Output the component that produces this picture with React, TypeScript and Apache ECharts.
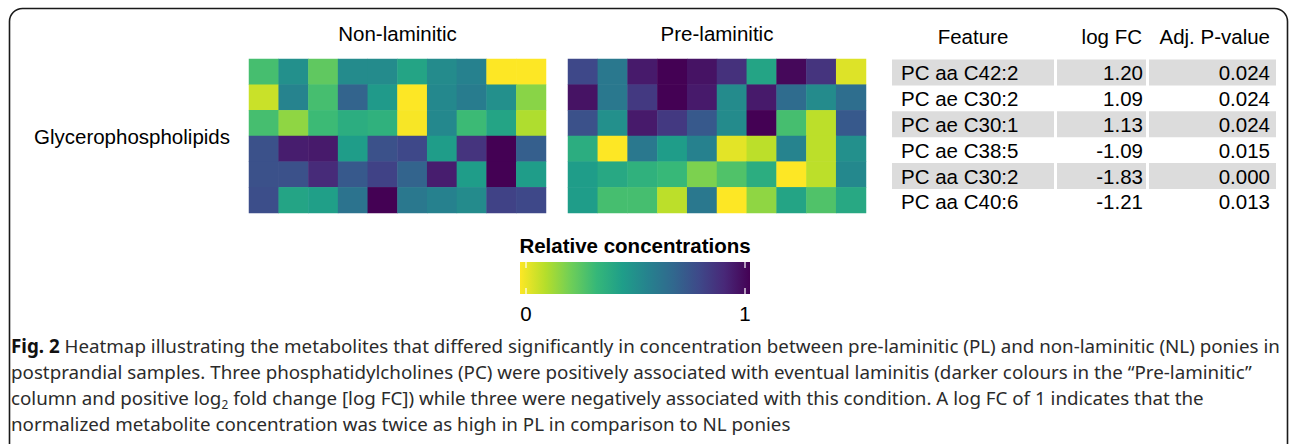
import React, { useEffect, useRef } from 'react';
import * as echarts from 'echarts';

// ---------- data ----------
const samples = ['S1', 'S2', 'S3', 'S4', 'S5', 'S6', 'S7', 'S8', 'S9', 'S10'];
const features = ['PC aa C42:2', 'PC ae C30:2', 'PC ae C30:1', 'PC ae C38:5', 'PC aa C30:2', 'PC aa C40:6'];
const logFC = ['1.20', '1.09', '1.13', '-1.09', '-1.83', '-1.21'];
const adjP = ['0.024', '0.024', '0.024', '0.015', '0.000', '0.013'];

const nonLaminitic = [
  [0.30, 0.50, 0.25, 0.52, 0.52, 0.42, 0.52, 0.56, 0.00, 0.00],
  [0.08, 0.55, 0.30, 0.68, 0.46, 0.00, 0.53, 0.58, 0.50, 0.18],
  [0.30, 0.17, 0.32, 0.38, 0.36, 0.01, 0.53, 0.32, 0.42, 0.12],
  [0.75, 0.92, 0.93, 0.45, 0.75, 0.78, 0.45, 0.85, 1.00, 0.70],
  [0.75, 0.75, 0.88, 0.72, 0.80, 0.68, 0.92, 0.45, 1.00, 0.45],
  [0.76, 0.42, 0.44, 0.62, 1.00, 0.60, 0.56, 0.52, 0.80, 0.78],
];
const preLaminitic = [
  [0.78, 0.60, 0.93, 1.00, 0.95, 0.86, 0.42, 0.98, 0.85, 0.05],
  [0.95, 0.60, 0.83, 1.00, 0.93, 0.52, 0.93, 0.65, 0.52, 0.64],
  [0.75, 0.50, 0.93, 0.83, 0.72, 0.52, 1.00, 0.30, 0.10, 0.72],
  [0.38, 0.00, 0.60, 0.45, 0.56, 0.04, 0.10, 0.55, 0.10, 0.50],
  [0.45, 0.40, 0.36, 0.33, 0.20, 0.28, 0.38, 0.00, 0.10, 0.53],
  [0.45, 0.30, 0.30, 0.10, 0.60, 0.00, 0.17, 0.42, 0.28, 0.40],
];
const groupTitles = ['Non-laminitic', 'Pre-laminitic'];
const tableHeaders = ['Feature', 'log FC', 'Adj. P-value'];
const colorbarTicks = ['0', '1'];
const captionBold = 'Fig. 2';
const captionLines = [
  ' Heatmap illustrating the metabolites that differed significantly in concentration between pre-laminitic (PL) and non-laminitic (NL) ponies in',
  'postprandial samples. Three phosphatidylcholines (PC) were positively associated with eventual laminitis (darker colours in the \u201CPre-laminitic\u201D',
  'column and positive log{sub|2} fold change [log FC]) while three were negatively associated with this condition. A log FC of 1 indicates that the',
  'normalized metabolite concentration was twice as high in PL in comparison to NL ponies',
];

// viridis reversed: 0 -> yellow, 1 -> dark purple
const viridisRev = ['#fde725', '#b5de2b', '#6ece58', '#35b779', '#1f9e89', '#26828e', '#31688e', '#3e4989', '#482878', '#440154'];

const W = 1292;
const H = 444;
const ARIAL = '"Liberation Sans", Arial, Helvetica, sans-serif';
const CAP_FONT = '"Noto Sans", "Open Sans", sans-serif';

function toCells(m: number[][]) {
  const out: number[][] = [];
  m.forEach((row, r) => row.forEach((v, c) => out.push([c, r, v])));
  return out;
}

export default function App() {
  const ref = useRef<HTMLDivElement>(null);
  useEffect(() => {
    document.body.style.margin = '0';
    const chart = echarts.init(ref.current!, null, { renderer: 'svg', width: W, height: H });

    // caption horizontal condensation (the original uses a condensed face)
    const capSize = 19;
    const cvs = document.createElement('canvas');
    const ctx = cvs.getContext('2d')!;
    ctx.font = `bold ${capSize}px "Noto Sans"`;
    const wBold = ctx.measureText(captionBold).width;
    ctx.font = `${capSize}px "Noto Sans"`;
    const wRest = ctx.measureText(captionLines[0]).width;
    const capScale = (1281 - 11) / (wBold + wRest);

    const grids = [
      { left: 249, top: 59, width: 297, height: 154 },
      { left: 568, top: 59, width: 298, height: 154 },
    ];

    const graphic: any[] = [];
    // outer rounded frame
    graphic.push({
      type: 'rect', silent: true,
      shape: { x: 9.5, y: 8.5, width: 1278, height: 480, r: 13 },
      style: { fill: 'none', stroke: '#1a1a1a', lineWidth: 1.6 },
    });
    // heatmap titles
    groupTitles.forEach((t, i) => {
      graphic.push({
        type: 'text', x: grids[i].left + grids[i].width / 2, y: 33,
        style: { text: t, fontFamily: ARIAL, fontSize: 20.5, fill: '#000', align: 'center', verticalAlign: 'middle' },
      });
    });
    graphic.push({
      type: 'text', x: 230, y: 136,
      style: { text: 'Glycerophospholipids', fontFamily: ARIAL, fontSize: 20.5, fill: '#000', align: 'right', verticalAlign: 'middle' },
    });

    // table
    const bandTop = 59.5;
    const rowH = 25.9;
    const bandCols = [[892, 1054], [1057, 1146], [1149, 1276]];
    features.forEach((f, i) => {
      const y0 = bandTop + i * rowH;
      if (i % 2 === 0) {
        bandCols.forEach(([a, b]) => {
          graphic.push({ type: 'rect', silent: true, shape: { x: a, y: y0, width: b - a, height: rowH }, style: { fill: '#dcdcdc' } });
        });
      }
      const yc = y0 + rowH / 2;
      graphic.push({ type: 'text', x: 901, y: yc, style: { text: f, fontFamily: ARIAL, fontSize: 20.5, fill: '#000', align: 'left', verticalAlign: 'middle' } });
      graphic.push({ type: 'text', x: 1143, y: yc, style: { text: logFC[i], fontFamily: ARIAL, fontSize: 20.5, fill: '#000', align: 'right', verticalAlign: 'middle' } });
      graphic.push({ type: 'text', x: 1270, y: yc, style: { text: adjP[i], fontFamily: ARIAL, fontSize: 20.5, fill: '#000', align: 'right', verticalAlign: 'middle' } });
    });
    graphic.push({ type: 'text', x: 973, y: 36, style: { text: tableHeaders[0], fontFamily: ARIAL, fontSize: 20.5, fill: '#000', align: 'center', verticalAlign: 'middle' } });
    graphic.push({ type: 'text', x: 1142, y: 36, style: { text: tableHeaders[1], fontFamily: ARIAL, fontSize: 20.5, fill: '#000', align: 'right', verticalAlign: 'middle' } });
    graphic.push({ type: 'text', x: 1270, y: 36, style: { text: tableHeaders[2], fontFamily: ARIAL, fontSize: 20.5, fill: '#000', align: 'right', verticalAlign: 'middle' } });

    // colour bar
    const cb = { x: 520, y: 262, w: 230, h: 32 };
    graphic.push({
      type: 'text', x: cb.x + cb.w / 2, y: 245,
      style: { text: 'Relative concentrations', fontFamily: ARIAL, fontSize: 20.5, fontWeight: 'bold', fill: '#000', align: 'center', verticalAlign: 'middle' },
    });
    graphic.push({
      type: 'rect', silent: true,
      shape: { x: cb.x, y: cb.y, width: cb.w, height: cb.h },
      style: {
        fill: new echarts.graphic.LinearGradient(0, 0, 1, 0,
          viridisRev.map((c, i) => ({ offset: i / (viridisRev.length - 1), color: c }))),
      },
    });
    const tickX = [cb.x + 6, cb.x + cb.w - 5];
    tickX.forEach((tx, i) => {
      graphic.push({ type: 'line', silent: true, shape: { x1: tx, y1: cb.y, x2: tx, y2: cb.y + 6 }, style: { stroke: '#fff', lineWidth: 1.2 } });
      graphic.push({ type: 'line', silent: true, shape: { x1: tx, y1: cb.y + cb.h - 6, x2: tx, y2: cb.y + cb.h }, style: { stroke: '#fff', lineWidth: 1.2 } });
      graphic.push({ type: 'text', x: tx, y: 313, style: { text: colorbarTicks[i], fontFamily: ARIAL, fontSize: 20.5, fill: '#000', align: 'center', verticalAlign: 'middle' } });
    });

    // caption
    const rich = {
      b: { fontFamily: CAP_FONT, fontSize: capSize, fontWeight: 'bold', fill: '#111', lineHeight: 24 },
      n: { fontFamily: CAP_FONT, fontSize: capSize, fill: '#2b2b2b', lineHeight: 24 },
      sub: { fontFamily: CAP_FONT, fontSize: 12, fill: '#2b2b2b', verticalAlign: 'bottom', lineHeight: 24 },
    };
    captionLines.forEach((ln, i) => {
      let txt = ln.split('{sub|2}').map((s) => `{n|${s}}`).join('{sub|2}');
      if (i === 0) txt = `{b|${captionBold}}` + txt;
      graphic.push({
        type: 'text', x: 11, y: 346 + i * 26, scaleX: capScale,
        style: { text: txt, rich, fontFamily: CAP_FONT, fontSize: capSize, fill: '#2b2b2b', align: 'left', verticalAlign: 'middle' },
      });
    });

    const option: any = {
      animation: false,
      backgroundColor: '#fff',
      grid: grids,
      xAxis: grids.map((_, i) => ({ type: 'category', gridIndex: i, data: samples, show: false })),
      yAxis: grids.map((_, i) => ({ type: 'category', gridIndex: i, data: features, inverse: true, show: false })),
      visualMap: {
        show: false, min: 0, max: 1, seriesIndex: [0, 1],
        inRange: { color: viridisRev },
      },
      series: [nonLaminitic, preLaminitic].map((m, i) => ({
        type: 'heatmap', name: groupTitles[i], xAxisIndex: i, yAxisIndex: i,
        data: toCells(m), itemStyle: { borderWidth: 0 },
        emphasis: { disabled: true },
      })),
      graphic,
    };
    chart.setOption(option);
    return () => chart.dispose();
  }, []);
  return <div ref={ref} style={{ width: W, height: H }} />;
}
